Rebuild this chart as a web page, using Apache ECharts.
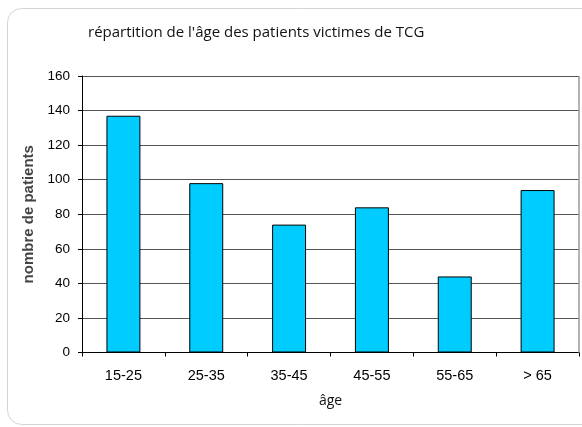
<!DOCTYPE html>
<html><head><meta charset="utf-8">
<script src="https://cdn.jsdelivr.net/npm/echarts@6/dist/echarts.min.js"></script>
<style>html,body{margin:0;padding:0;background:#fff}#c{width:582px;height:427px}</style>
</head><body><div id="c"></div>
<script>
const categories = ['15-25', '25-35', '35-45', '45-55', '55-65', '> 65'];
const patients = [137, 98, 74, 84, 44, 94];
const yTicks = [0, 20, 40, 60, 80, 100, 120, 140, 160];

const chart = echarts.init(document.getElementById('c'), null, {renderer: 'canvas'});
chart.setOption({
  animation: false,
  backgroundColor: '#fff',
  graphic: [{
    type: 'rect', left: 5, top: 6, z: -1,
    shape: {x: 0, y: 0, width: 620, height: 416, r: 14},
    style: {fill: 'none', stroke: '#d4d4d4', lineWidth: 1}
  }, {
    type: 'line', z: 1,
    shape: {x1: 579, y1: 76, x2: 579, y2: 352.5},
    style: {stroke: '#9a9a9a', lineWidth: 1.5}
  }],
  title: {
    text: "répartition de l'âge des patients victimes de TCG",
    left: 83, top: 20,
    textStyle: {fontFamily: 'Open Sans', fontSize: 15, fontWeight: 'normal', color: '#111'}
  },
  grid: {left: 82, right: 3, top: 76, bottom: 74.5, containLabel: false},
  xAxis: {
    type: 'category', data: categories,
    name: 'âge', nameLocation: 'middle', nameGap: 42,
    nameTextStyle: {fontFamily: 'Open Sans', fontSize: 14, color: '#111'},
    axisLine: {lineStyle: {color: '#000', width: 1}},
    axisTick: {show: true, alignWithLabel: false, length: 4, lineStyle: {color: '#000'}},
    axisLabel: {fontFamily: 'Liberation Sans', fontSize: 14.5, color: '#000', margin: 16}
  },
  yAxis: {
    type: 'value', min: yTicks[0], max: yTicks[yTicks.length - 1], interval: 20,
    name: 'nombre de patients', nameLocation: 'middle', nameGap: 45,
    nameTextStyle: {fontFamily: 'Liberation Sans', fontSize: 15, fontWeight: 'bold', color: '#444'},
    axisLine: {show: true, lineStyle: {color: '#000', width: 1}},
    axisTick: {show: true, length: 4, lineStyle: {color: '#000'}},
    axisLabel: {fontFamily: 'Liberation Sans', fontSize: 13.5, color: '#000', margin: 12},
    splitLine: {show: true, lineStyle: {color: '#555', width: 1.2}}
  },
  series: [{
    type: 'bar', data: patients, barCategoryGap: '59%',
    itemStyle: {color: '#00CCFF', borderColor: '#000', borderWidth: 1}
  }]
});
</script></body></html>
